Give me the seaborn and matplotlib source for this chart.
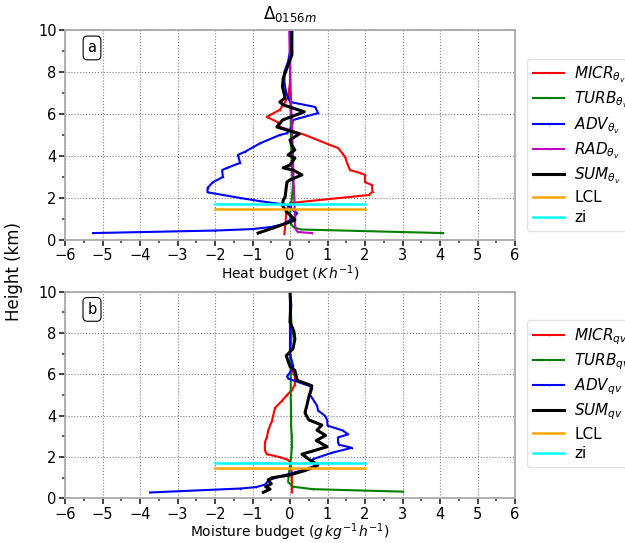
import numpy as np
import pandas as pd
import matplotlib
matplotlib.use("Agg")
import matplotlib.pyplot as plt
import seaborn as sns
from matplotlib.ticker import MultipleLocator

# heat budget profiles (K/h) vs height (km)
micr_h = [0.3, 0.8, 1.3, 1.6, 1.76, 2.14, 2.3, 2.62, 2.76, 3.1, 3.19, 3.33, 3.67, 3.95, 4.14, 4.38, 4.52,
          5.0, 5.38, 5.6, 5.86, 6.2, 6.57, 6.8, 7.5, 8.5, 10.0]
micr_t = [-0.15, -0.12, -0.1, -0.05, 0.0, 2.1, 2.2, 2.18, 2.0, 2.0, 1.87, 1.6, 1.52, 1.47, 1.39, 1.28, 1.07,
          0.4, -0.27, -0.32, -0.62, -0.27, -0.13, -0.05, 0.0, 0.0, 0.0]
turb_h = [0.33, 0.5, 0.6, 0.75, 1.2, 1.6, 2.0, 2.6, 3.0, 3.5, 4.0, 5.0, 6.0, 7.0, 8.0, 10.0]
turb_t = [4.08, 0.3, 0.1, 0.03, 0.0, 0.02, 0.05, 0.08, 0.06, 0.05, 0.04, 0.02, 0.02, 0.0, 0.0, 0.0]
adv_h = [0.33, 0.45, 0.52, 0.62, 0.75, 0.95, 1.1, 1.29, 1.43, 1.57, 1.67, 1.85, 2.0, 2.27, 2.48, 2.76, 3.0,
         3.33, 3.43, 3.67, 4.05, 4.2, 4.6, 5.0, 5.08, 5.4, 5.71, 6.04, 6.33, 6.57, 7.0, 7.5, 8.0, 8.5, 9.0, 10.0]
adv_t = [-5.25, -2.0, -1.0, -0.5, -0.2, 0.0, 0.13, 0.18, 0.08, 0.0, -0.08, -0.8, -1.33, -2.2, -2.2, -2.05, -1.79,
         -1.81, -1.68, -1.33, -1.39, -1.2, -0.8, -0.27, -0.08, 0.05, 0.08, 0.75, 0.67, 0.0, -0.1, -0.15, -0.15,
         -0.05, 0.0, 0.0]
rad_h = [0.33, 0.38, 0.5, 0.71, 1.0, 1.8, 2.5, 3.9, 5.5, 7.0, 8.5, 10.0]
rad_t = [0.59, 0.21, 0.15, 0.13, 0.13, 0.12, 0.1, 0.08, 0.05, 0.02, 0.0, -0.02]
sum_h = [0.33, 0.57, 0.86, 0.95, 1.19, 1.33, 1.57, 1.67, 1.9, 2.05, 2.5, 2.76, 2.86, 3.1, 3.33, 3.43, 3.57,
         3.9, 4.05, 4.29, 4.5, 4.76, 5.05, 5.38, 5.71, 6.1, 6.43, 6.57, 6.76, 7.29, 7.71, 8.19, 8.81, 9.43, 10.0]
sum_t = [-0.85, -0.45, 0.0, 0.13, 0.0, -0.08, -0.18, -0.2, -0.18, -0.13, -0.1, -0.08, 0.0, 0.32, 0.08, -0.18,
         0.0, 0.13, -0.05, 0.13, 0.05, 0.0, 0.25, -0.35, -0.2, 0.38, -0.18, -0.27, -0.13, -0.2, -0.18, -0.08,
         0.05, 0.05, 0.05]

# moisture budget profiles (g/kg/h)
micr_q_h = [0.3, 0.8, 1.2, 1.52, 1.75, 1.86, 2.0, 2.14, 2.33, 2.71, 2.95, 3.29, 3.76, 4.38, 4.71, 5.0, 5.24,
            5.5, 5.9, 6.2, 7.0, 10.0]
micr_q = [0.05, 0.05, 0.05, 0.03, 0.0, -0.05, -0.27, -0.62, -0.67, -0.67, -0.62, -0.58, -0.48, -0.4, -0.22,
          -0.08, 0.05, 0.13, 0.13, 0.05, 0.0, 0.0]
turb_q_h = [0.33, 0.45, 0.57, 0.8, 1.19, 1.6, 2.0, 2.5, 3.0, 3.5, 4.0, 5.0, 6.0, 7.0, 8.0, 10.0]
turb_q = [3.01, 0.6, 0.08, -0.05, -0.03, 0.0, 0.03, 0.05, 0.05, 0.03, 0.03, 0.02, 0.02, 0.0, 0.05, 0.0]
adv_q_h = [0.29, 0.48, 0.55, 0.67, 0.9, 1.1, 1.3, 1.5, 1.62, 1.76, 1.9, 2.2, 2.45, 2.6, 2.75, 2.95, 3.1, 3.29,
           3.52, 3.8, 4.0, 4.25, 4.48, 4.86, 5.0, 5.33, 5.43, 5.8, 5.9, 6.29, 6.43, 7.0, 10.0]
adv_q = [-3.73, -1.33, -0.9, -0.67, -0.55, -0.2, 0.2, 0.55, 0.7, 0.6, 0.61, 1.1, 1.65, 1.3, 1.28, 1.28, 1.55,
         1.4, 1.0, 0.99, 0.93, 0.75, 0.72, 0.59, 0.53, 0.59, 0.53, -0.05, -0.08, 0.08, 0.08, 0.0, 0.0]
sum_q_h = [0.3, 0.45, 0.57, 0.71, 0.9, 1.0, 1.14, 1.35, 1.57, 1.65, 1.76, 2.14, 2.5, 2.8, 3.05, 3.3, 3.55, 3.8,
           4.14, 4.5, 4.9, 5.2, 5.45, 5.71, 6.19, 6.38, 6.9, 7.24, 7.71, 8.1, 8.52, 9.3, 10.0]
sum_q = [-0.71, -0.53, -0.65, -0.5, -0.58, -0.48, 0.0, 0.4, 0.72, 0.75, 0.61, 0.32, 0.99, 0.7, 0.95, 0.72, 0.85,
         0.5, 0.4, 0.45, 0.5, 0.55, 0.58, 0.19, 0.13, 0.0, -0.1, 0.08, 0.13, 0.1, 0.0, 0.02, 0.0]

lcl = 1.48
zi = 1.7
line_x = [-2, 2]

heat_series = [
    (micr_t, micr_h, 'red', r'$MICR_{\theta_v}$'),
    (turb_t, turb_h, 'green', r'$TURB_{\theta_v}$'),
    (adv_t, adv_h, 'blue', r'$ADV_{\theta_v}$'),
    (rad_t, rad_h, 'm', r'$RAD_{\theta_v}$'),
    (sum_t, sum_h, 'black', r'$SUM_{\theta_v}$'),
]
moist_series = [
    (micr_q, micr_q_h, 'red', r'$MICR_{qv}$'),
    (turb_q, turb_q_h, 'green', r'$TURB_{qv}$'),
    (adv_q, adv_q_h, 'blue', r'$ADV_{qv}$'),
    (sum_q, sum_q_h, 'black', r'$SUM_{qv}$'),
]

plt.rcParams['font.family'] = ['DejaVu Sans']
plt.rcParams['mathtext.fontset'] = 'dejavusans'

fig = plt.figure(figsize=(6.25, 5.43), dpi=100)
ax1 = fig.add_axes([0.104, 0.558, 0.72, 0.387])
ax2 = fig.add_axes([0.104, 0.082, 0.72, 0.381])


def draw_panel(ax, series, xlabel, tag):
    for xs, hs, col, lab in series:
        lw = 2.2 if col == 'black' else 1.5
        ms = 0 if col == 'black' else 2.5
        sns.lineplot(x=xs, y=hs, sort=False, estimator=None, color=col, lw=lw,
                     marker='.', markersize=ms, markeredgewidth=0, label=lab, ax=ax)
    sns.lineplot(x=line_x, y=[lcl, lcl], color='orange', lw=1.8, label='LCL', ax=ax)
    sns.lineplot(x=line_x, y=[zi, zi], color='cyan', lw=1.8, label='zi', ax=ax)

    ax.set_xlim(-6, 6)
    ax.set_ylim(0, 10)
    ax.xaxis.set_major_locator(MultipleLocator(1))
    ax.xaxis.set_minor_locator(MultipleLocator(0.5))
    ax.yaxis.set_major_locator(MultipleLocator(2))
    ax.yaxis.set_minor_locator(MultipleLocator(1))
    ax.tick_params(which='major', length=4, width=1.3, pad=2, labelsize=10.5, color='#333333')
    ax.tick_params(which='minor', length=2.5, width=1.1, color='#333333')
    ax.grid(True, which='major', ls=':', color='gray', lw=0.8)
    for sp in ax.spines.values():
        sp.set_color('#aaaaaa')
        sp.set_linewidth(1.3)
    ax.set_xlabel(xlabel, fontsize=10, labelpad=0)
    ax.set_ylabel('')
    ax.text(0.06, 0.914, tag, transform=ax.transAxes, fontsize=10.5, ha='center', va='center',
            bbox=dict(boxstyle='round,pad=0.3', fc='white', ec='black', lw=0.8))
    ax.legend(loc='upper left', bbox_to_anchor=(1.01, 0.90), fontsize=11, labelspacing=0.3,
              handlelength=2.0, handletextpad=0.7, borderpad=0.4,
              frameon=True, framealpha=0.8, edgecolor='#dddddd')


draw_panel(ax1, heat_series, r'Heat budget ($K\,h^{-1}$)', 'a')
draw_panel(ax2, moist_series, r'Moisture budget ($g\,kg^{-1}\,h^{-1}$)', 'b')

ax1.set_title(r'$\Delta_{0156m}$', fontsize=12, pad=8)
fig.text(0.022, 0.5, 'Height (km)', rotation=90, va='center', ha='center', fontsize=12)

fig.savefig('out.png', dpi=100)
